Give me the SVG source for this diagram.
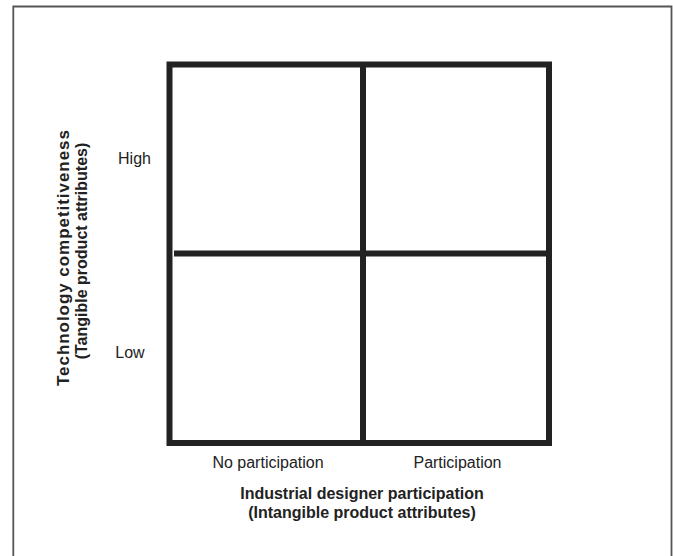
<svg xmlns="http://www.w3.org/2000/svg" width="673" height="556" viewBox="0 0 673 556">
<style>
.frame{fill:none;stroke:#555;stroke-width:1.8}
.grid{fill:none;stroke:#222;stroke-width:6}
.lbl{font-family:"Liberation Sans",Arial,sans-serif;font-size:16px;fill:#222}
.ax{font-family:"Liberation Sans",Arial,sans-serif;font-size:16px;font-weight:bold;fill:#222}
</style>
<rect width="673" height="556" fill="#fff"/>
<path class="frame" d="M13.3,556 V6.5 H671.5 V556"/>
<g id="grid">
<rect class="grid" x="169.5" y="64.5" width="379.5" height="378.5"/>
</g>
<g id="connectors">
<line class="grid" x1="363" y1="64.5" x2="363" y2="443"/>
<line class="grid" x1="174" y1="253.5" x2="552" y2="253.5"/>
</g>
<g id="y-labels">
<text class="lbl" x="134.5" y="164" text-anchor="middle">High</text>
<text class="lbl" x="130" y="357.5" text-anchor="middle">Low</text>
</g>
<g id="x-labels">
<text class="lbl" x="268" y="468" text-anchor="middle">No participation</text>
<text class="lbl" x="457.5" y="468" text-anchor="middle">Participation</text>
</g>
<g id="x-axis-title">
<text class="ax" x="362" y="498.5" text-anchor="middle">Industrial designer participation</text>
<text class="ax" x="362" y="517.5" text-anchor="middle">(Intangible product attributes)</text>
</g>
<g id="y-axis-title">
<text class="ax" style="font-size:17px" transform="translate(68.5,128) rotate(-90)" x="-258" y="0" textLength="256" lengthAdjust="spacing">Technology competitiveness</text>
<text class="ax" transform="translate(86.5,251) rotate(-90)" text-anchor="middle">(Tangible product attributes)</text>
</g>
</svg>
